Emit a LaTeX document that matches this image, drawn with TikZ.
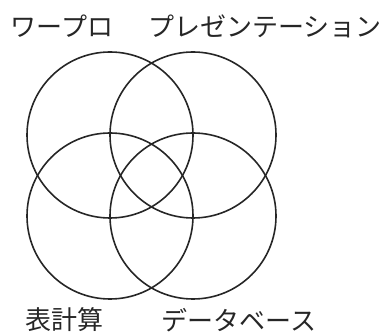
\documentclass[tikz,border=0pt]{standalone}
\usepackage{fontspec}
\newfontfamily\jpfont{Noto Sans CJK JP}
\usepackage{tikz}
\usetikzlibrary{positioning}
\usepackage{xcolor}
\definecolor{ink}{HTML}{262626}

\begin{document}
\begin{tikzpicture}[x=1pt, y=-1pt,
    ring/.style={draw=ink, line width=1.6pt, circle, minimum size=166pt, inner sep=0pt},
    label/.style={font=\jpfont\fontsize{26}{28}\selectfont, text=ink, inner sep=0pt}]
    \useasboundingbox (0,0) rectangle (385,336);
    % four sets, each circle runs through its neighbours' centres
    \node[ring] (wp) at (110,135) {};
    \node[ring] (pr) at (193,135) {};
    \node[ring] (ss) at (110,216) {};
    \node[ring] (db) at (193,216) {};
    \node[label] (wpl) at (62,26) {ワープロ};
    \node[label] (prl) at (265,26) {プレゼンテーション};
    \node[label] (ssl) at (64,320) {表計算};
    \node[label] (dbl) at (239,320) {データベース};
  \end{tikzpicture}
\end{document}
